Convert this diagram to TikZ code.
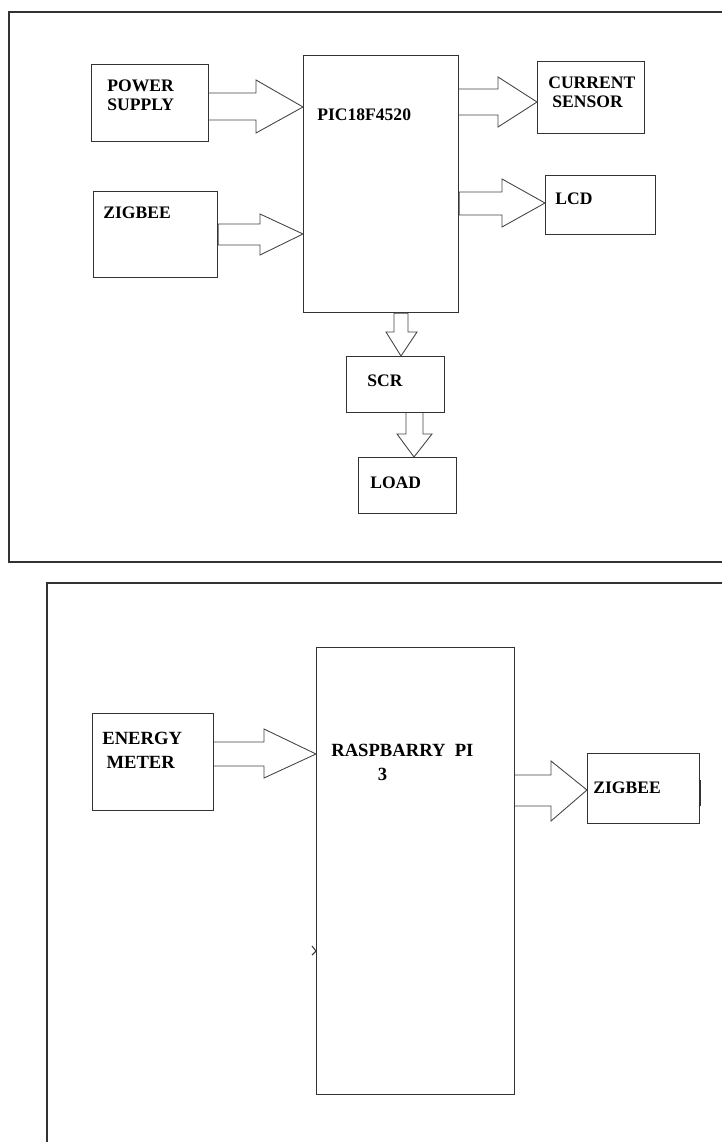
\documentclass[tikz,border=0pt]{standalone}
\usepackage{fontspec}
\setmainfont{Liberation Serif}

\definecolor{bdLine}{HTML}{333333}
\definecolor{bdArrow}{HTML}{444444}

\tikzset{
  blockbox/.style={draw=bdLine,line width=0.7pt,rectangle,inner sep=0pt,anchor=north west},
  lbl/.style={inner sep=0pt,anchor=north west,align=left,font=\fontsize{10}{10.6}\selectfont\bfseries},
  lblbig/.style={lbl,font=\fontsize{10.6}{13.7}\selectfont\bfseries},
  fatarrow/.style={draw=bdArrow,line width=0.5pt,line join=miter},
  frameline/.style={draw=bdLine,line width=0.8pt}
}

\begin{document}
\begin{tikzpicture}[x=0.02cm,y=-0.02cm]
  \useasboundingbox (0,0) rectangle (722,1142);

  % ---- frames ----
  \draw[frameline] (722,12) -- (9,12) -- (9,562) -- (722,562);
  \draw[frameline] (722,583) -- (47,583) -- (47,1142);

  % ---- upper diagram: boxes ----
  \node[blockbox,minimum width=2.34cm,minimum height=1.54cm] (supply) at (91,64)  {};
  \node[blockbox,minimum width=3.10cm,minimum height=5.14cm] (pic)    at (303,55) {};
  \node[blockbox,minimum width=2.48cm,minimum height=1.72cm] (zigbee) at (93,191) {};
  \node[blockbox,minimum width=2.14cm,minimum height=1.44cm] (sensor) at (537,61) {};
  \node[blockbox,minimum width=2.20cm,minimum height=1.18cm] (lcd)    at (545,175) {};
  \node[blockbox,minimum width=1.96cm,minimum height=1.12cm] (scr)    at (346,356) {};
  \node[blockbox,minimum width=1.96cm,minimum height=1.12cm] (load)   at (358,457) {};

  % ---- upper diagram: labels ----
  \node[lbl] (supplytxt) at (107,80)  {POWER\\SUPPLY};
  \node[lbl] (pictxt)    at (317,108) {PIC18F4520};
  \node[lbl] (zigbeetxt) at (103,207) {ZIGBEE};
  \node[lbl] (sensortxt) at (548,77)  {CURRENT\\\hspace*{2.3pt}SENSOR};
  \node[lbl] (lcdtxt)    at (555,193) {LCD};
  \node[lbl] (scrtxt)    at (367,375) {SCR};
  \node[lbl] (loadtxt)   at (370,477) {LOAD};

  % ---- upper diagram: block arrows ----
  \draw[fatarrow] (supply.east |- 0,93) -- (256,93) -- (256,80) -- (pic.west |- 0,107)
                  -- (256,133) -- (256,120) -- (supply.east |- 0,120);
  \draw[fatarrow] (zigbee.east |- 0,224) -- (260,224) -- (260,214) -- (pic.west |- 0,234)
                  -- (260,255) -- (260,245) -- (zigbee.east |- 0,245) -- cycle;
  \draw[fatarrow] (pic.east |- 0,89) -- (498,89) -- (498,77) -- (sensor.west |- 0,102)
                  -- (498,127) -- (498,115) -- (pic.east |- 0,115);
  \draw[fatarrow] (pic.east |- 0,192) -- (502,192) -- (502,179) -- (lcd.west |- 0,203)
                  -- (502,227) -- (502,215) -- (pic.east |- 0,215) -- cycle;
  \draw[fatarrow] (pic.south -| 394,0) -- (394,332) -- (386,332) -- (scr.north -| 401,0)
                  -- (417,332) -- (408,332) -- (pic.south -| 408,0) -- cycle;
  \draw[fatarrow] (scr.south -| 406,0) -- (406,434) -- (397,434) -- (load.north -| 414,0)
                  -- (432,434) -- (423,434) -- (scr.south -| 423,0);

  % ---- lower diagram: boxes ----
  \node[blockbox,minimum width=2.42cm,minimum height=1.94cm] (meter)   at (92,713)  {};
  \node[blockbox,minimum width=3.96cm,minimum height=8.94cm] (rpi)     at (316,647) {};
  \node[blockbox,minimum width=2.24cm,minimum height=1.40cm] (zigbeeb) at (587,753) {};

  % ---- lower diagram: labels ----
  \node[lblbig] (metertxt)   at (102,732) {ENERGY\\\hspace*{2.4pt}METER};
  \node[lblbig] (rpitxt)     at (331,744) {RASPBARRY\ \ PI\\\hspace*{26.5pt}3};
  \node[lbl]    (zigbeebtxt) at (593,782) {ZIGBEE};

  % ---- lower diagram: block arrows ----
  \draw[fatarrow] (meter.east |- 0,742) -- (264,742) -- (264,729) -- (rpi.west |- 0,754)
                  -- (264,778) -- (264,766) -- (meter.east |- 0,766);
  \draw[fatarrow] (rpi.east |- 0,775) -- (551,775) -- (551,761) -- (zigbeeb.west |- 0,790)
                  -- (551,821) -- (551,806) -- (rpi.east |- 0,806);
  \draw[bdLine,line width=1.4pt] (zigbeeb.east |- 0,780) -- (zigbeeb.east |- 0,806);

  % ---- stray tick on the left edge ----
  \draw[bdLine,line width=0.6pt] (312,946) -- (rpi.west |- 0,951) -- (312,955);
\end{tikzpicture}
\end{document}
